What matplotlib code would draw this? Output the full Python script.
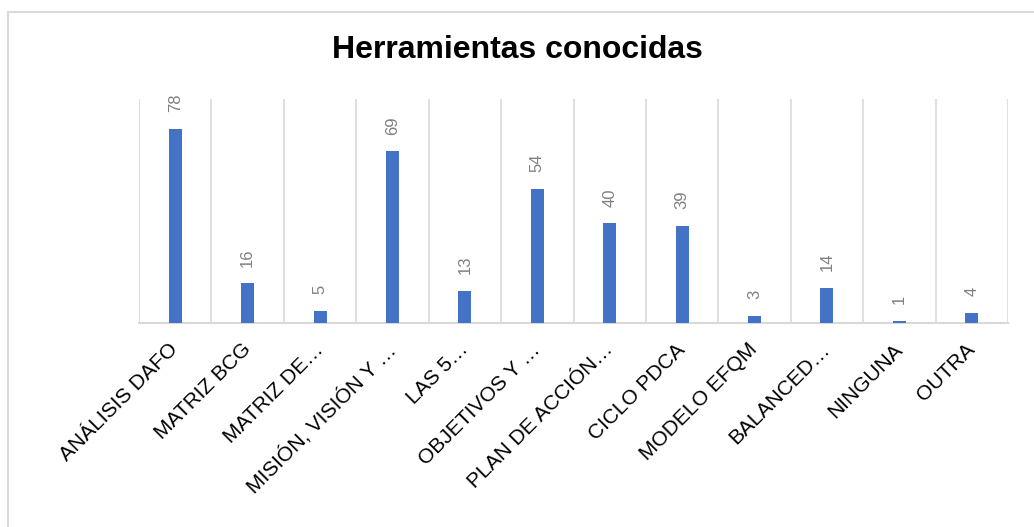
import matplotlib.pyplot as plt
import matplotlib.patches as patches
import numpy as np

categorias = ['ANÁLISIS DAFO', 'MATRIZ BCG', 'MATRIZ DE…', 'MISIÓN, VISIÓN Y …',
              'LAS 5…', 'OBJETIVOS Y …', 'PLAN DE ACCIÓN…', 'CICLO PDCA',
              'MODELO EFQM', 'BALANCED…', 'NINGUNA', 'OUTRA']
valores = [78, 16, 5, 69, 13, 54, 40, 39, 3, 14, 1, 4]

plt.rcParams['font.family'] = ['Liberation Sans', 'DejaVu Sans']

fig = plt.figure(figsize=(10.34, 5.27), dpi=100)
ax = fig.add_axes([139 / 1034, 1 - 323 / 527, (1008 - 139) / 1034, (323 - 99) / 527])

x = np.arange(len(categorias))
barras = ax.bar(x, valores, width=0.18, color='#4472C4', zorder=3)

# etiquetas de valor giradas
for xi, v in zip(x, valores):
    ax.annotate(str(v), (xi, v), xytext=(0, 12), textcoords='offset points',
                rotation=90, ha='center', va='bottom', fontsize=12, color='#808080')

ax.set_xlim(-0.5, len(categorias) - 0.5)
ax.set_ylim(0, 90)

# lineas verticales entre categorias
for b in np.arange(-0.5, len(categorias), 1.0):
    ax.axvline(b, color='#D9D9D9', linewidth=1.2, zorder=1)

for s in ['top', 'right', 'left']:
    ax.spines[s].set_visible(False)
ax.spines['bottom'].set_color('#D9D9D9')
ax.spines['bottom'].set_linewidth(1.5)

ax.set_yticks([])
ax.set_xticks(x)
ax.set_xticklabels(categorias, rotation=45, ha='right', va='center',
                   rotation_mode='anchor', fontsize=15, color='black')
ax.tick_params(axis='x', length=0, pad=17)

fig.text(0.5, 1 - 50 / 527, 'Herramientas conocidas', ha='center', va='center',
         fontsize=23, fontweight='bold', color='black')

# borde del grafico
borde = patches.Rectangle((7.5 / 1034, -0.1), 1.2, 0.1 + (527 - 12) / 527,
                          transform=fig.transFigure, fill=False,
                          edgecolor='#D9D9D9', linewidth=1.5, clip_on=False)
fig.patches.append(borde)

fig.savefig('out.png', dpi=100)
